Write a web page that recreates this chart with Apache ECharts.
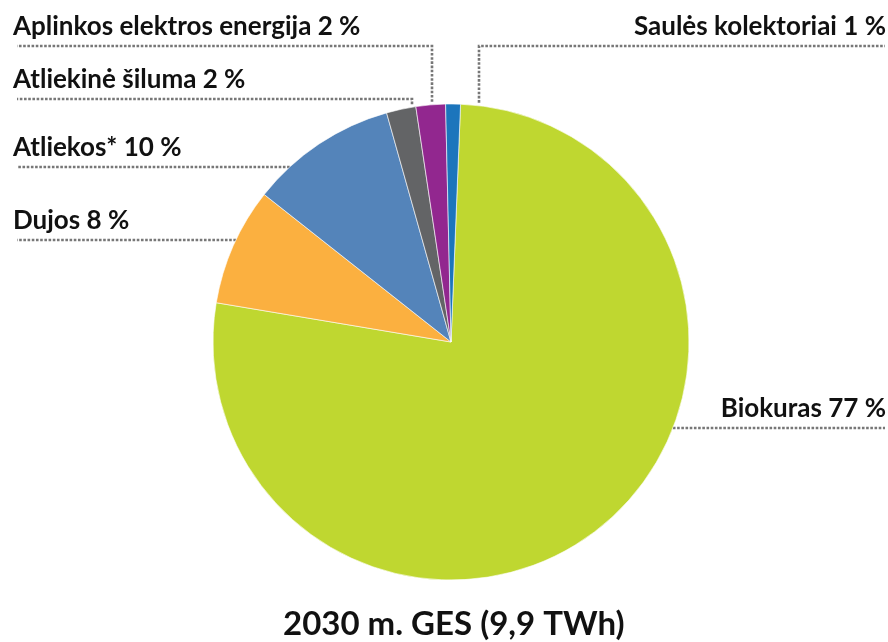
<!DOCTYPE html>
<html>
<head>
<meta charset="utf-8">
<script src="https://cdn.jsdelivr.net/npm/echarts@6/dist/echarts.min.js"></script>
<style>html,body{margin:0;padding:0;background:#fff;}#c{width:888px;height:642px;}</style>
</head>
<body>
<div id="c"></div>
<script>
const categories = ['Biokuras', 'Dujos', 'Atliekos*', 'Atliekinė šiluma', 'Aplinkos elektros energija', 'Saulės kolektoriai'];
const values = [77, 8, 10, 2, 2, 1];
const titleText = '2030 m. GES (9,9 TWh)';

const colors = ['#bfd730', '#fbb040', '#5484ba', '#636466', '#92278f', '#1c75bc'];

const CX = 451, CY = 342, R = 238;
const FONT = 'Lato';
const leaders = [
  { side: 'right', lineY: 428 },
  { side: 'left', lineY: 240 },
  { side: 'left', lineY: 167 },
  { side: 'left', lineY: 99, dropX: 412 },
  { side: 'left', lineY: 46, dropX: 432 },
  { side: 'right', lineY: 46, dropX: 479 }
];
const LEFT_X = 17, RIGHT_X = 885;

function edgeX(y, s) { const dy = y - CY; return CX + s * Math.sqrt(R * R - dy * dy); }
function edgeY(x) { const dx = x - CX; return CY - Math.sqrt(R * R - dx * dx); }

const chart = echarts.init(document.getElementById('c'), null, { renderer: 'canvas' });
chart.setOption({
  backgroundColor: '#ffffff',
  animation: false,
  title: {
    text: titleText,
    left: 278,
    top: 603,
    textStyle: { fontFamily: FONT, fontWeight: 'bold', fontSize: 33, color: '#111' }
  },
  series: [{
    type: 'pie',
    center: [CX, CY],
    radius: R,
    startAngle: 87.7,
    clockwise: true,
    avoidLabelOverlap: false,
    itemStyle: { borderColor: '#ffffff', borderWidth: 0.6 },
    label: {
      show: true,
      position: 'outside',
      formatter: '{b} {c} %',
      fontFamily: FONT,
      fontWeight: 'bold',
      fontSize: 26,
      color: '#111'
    },
    labelLine: {
      show: true,
      smooth: false,
      lineStyle: { color: '#777777', width: 2.6, type: [2.6, 1.6] }
    },
    labelLayout: function (p) {
      const c = leaders[p.dataIndex];
      const end = c.side === 'left' ? LEFT_X : RIGHT_X;
      let pts;
      if (c.dropX !== undefined) {
        const ey = edgeY(c.dropX) - 3;
        pts = [[c.dropX, ey], [c.dropX, c.lineY], [end, c.lineY]];
      } else {
        const ex = edgeX(c.lineY, c.side === 'left' ? -1 : 1);
        pts = [[ex, c.lineY], [(ex + end) / 2, c.lineY], [end, c.lineY]];
      }
      return {
        x: c.side === 'left' ? 13 : 886,
        y: c.lineY - 6,
        align: c.side,
        verticalAlign: 'bottom',
        labelLinePoints: pts
      };
    },
    data: categories.map((n, i) => ({ name: n, value: values[i], itemStyle: { color: colors[i] } }))
  }]
});
</script>
</body>
</html>
